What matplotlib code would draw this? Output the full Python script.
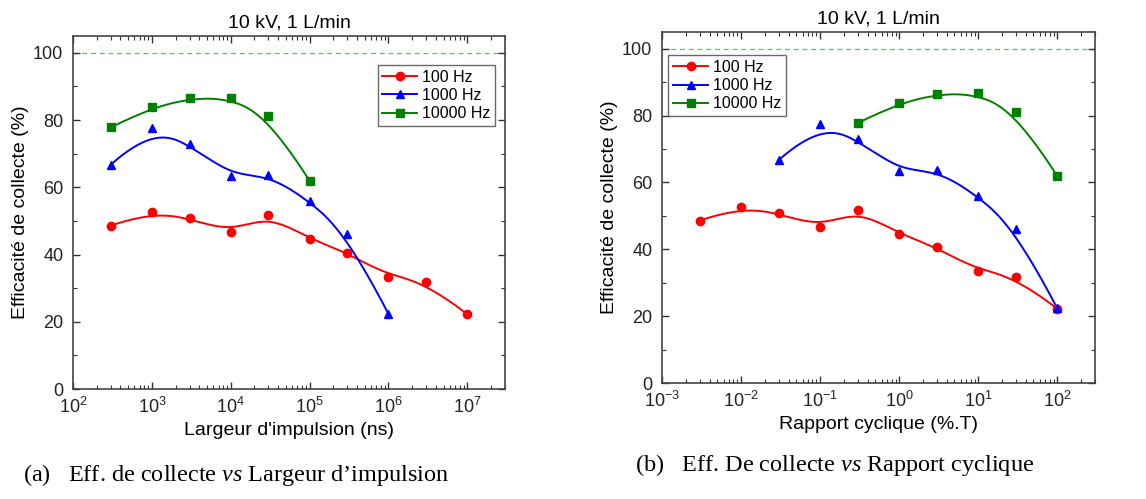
import numpy as np
import matplotlib
matplotlib.use("Agg")
import matplotlib.pyplot as plt
from matplotlib.ticker import LogLocator, MultipleLocator, NullFormatter

plt.rcParams['font.family'] = ['Liberation Sans', 'DejaVu Sans']
plt.rcParams['mathtext.fontset'] = 'custom'
plt.rcParams['mathtext.rm'] = 'Liberation Serif'
plt.rcParams['mathtext.it'] = 'Liberation Serif:italic'

# pulse widths (ns) and collection efficiency (%) for each frequency
freqs_hz = [100, 1000, 10000]
series_labels = ['100 Hz', '1000 Hz', '10000 Hz']
width_100 = [3e2, 1e3, 3e3, 1e4, 3e4, 1e5, 3e5, 1e6, 3e6, 1e7]
eff_100 = [48.6, 52.7, 50.8, 46.6, 51.8, 44.6, 40.6, 33.4, 31.8, 22.2]
width_1000 = [3e2, 1e3, 3e3, 1e4, 3e4, 1e5, 3e5, 1e6]
eff_1000 = [66.7, 77.6, 72.9, 63.4, 63.7, 56.0, 46.0, 22.3]
width_10000 = [3e2, 1e3, 3e3, 1e4, 3e4, 1e5]
eff_10000 = [77.8, 83.8, 86.5, 86.7, 81.2, 61.9]

colors = ['#ff0000', '#0000ff', '#008000']
markers = ['o', '^', 's']


def bspline(x, y, n=200):
    # clamped cubic B-spline using the data as control points (like Origin "B-Spline")
    px = np.log10(np.asarray(x, float))
    py = np.asarray(y, float)
    m = len(px)
    k = 3
    knots = np.concatenate([np.zeros(k), np.arange(m - k + 1), np.full(k, m - k)]).astype(float)
    t = np.linspace(0, m - k, n)
    t[-1] -= 1e-9

    def basis(i, d, tt):
        if d == 0:
            return np.where((knots[i] <= tt) & (tt < knots[i + 1]), 1.0, 0.0)
        out = np.zeros_like(tt)
        den1 = knots[i + d] - knots[i]
        den2 = knots[i + d + 1] - knots[i + 1]
        if den1 > 0:
            out += (tt - knots[i]) / den1 * basis(i, d - 1, tt)
        if den2 > 0:
            out += (knots[i + d + 1] - tt) / den2 * basis(i + 1, d - 1, tt)
        return out

    B = np.array([basis(i, k, t) for i in range(m)])
    return 10 ** (B.T @ px), B.T @ py


def style_axes(ax, xlim):
    ax.set_xscale('log')
    ax.set_xlim(*xlim)
    ax.set_ylim(0, 105)
    ax.yaxis.set_major_locator(MultipleLocator(20))
    ax.yaxis.set_minor_locator(MultipleLocator(10))
    ax.xaxis.set_major_locator(LogLocator(base=10, numticks=20))
    ax.xaxis.set_minor_locator(LogLocator(base=10, subs=np.arange(2, 10), numticks=20))
    ax.xaxis.set_minor_formatter(NullFormatter())
    ax.tick_params(which='both', direction='in', top=True, right=True, colors='#333333',
                   labelcolor='#222222', labelsize=13)
    ax.tick_params(which='major', length=5, width=1)
    ax.tick_params(which='minor', length=3, width=0.8)
    ax.tick_params(axis='x', pad=6)
    ax.tick_params(axis='y', pad=7)
    for s in ax.spines.values():
        s.set_color('#444444')
        s.set_linewidth(1.2)
    ax.axhline(100, color='#33dd33', lw=0.9, ls=(0, (4, 3)), zorder=1)
    ax.set_ylabel('Efficacité de collecte (%)', fontsize=14, labelpad=3)
    ax.set_title('10 kV, 1 L/min', fontsize=14, pad=6)


fig = plt.figure(figsize=(11.46, 4.99), dpi=100)
ax1 = fig.add_axes([73 / 1146, 110 / 499, 432 / 1146, 353 / 499])
ax2 = fig.add_axes([662 / 1146, 116 / 499, 433 / 1146, 351 / 499])

widths = [width_100, width_1000, width_10000]
effs = [eff_100, eff_1000, eff_10000]

for i in range(3):
    w = np.array(widths[i])
    duty = w * freqs_hz[i] * 1e-9 * 100  # duty cycle in % of period
    for ax, xv in ((ax1, w), (ax2, duty)):
        cx, cy = bspline(xv, effs[i])
        ax.plot(cx, cy, color=colors[i], lw=1.4, zorder=3)
        ax.plot(xv, effs[i], ls='none', marker=markers[i], ms=6, color=colors[i], zorder=4)
        ax.plot([], [], color=colors[i], lw=1.4, marker=markers[i], ms=6, label=series_labels[i])

style_axes(ax1, (1e2, 3e7))
style_axes(ax2, (1e-3, 3e2))
ax1.set_xlabel("Largeur d'impulsion (ns)", fontsize=14, labelpad=3)
ax2.set_xlabel('Rapport cyclique (%.T)', fontsize=14, labelpad=3)

for ax, loc in ((ax1, (0.705, 0.745)), (ax2, (0.015, 0.76))):
    leg = ax.legend(loc='lower left', bbox_to_anchor=loc, fontsize=11.5, frameon=True, fancybox=False,
                    handlelength=2.2, handletextpad=0.3, borderpad=0.3, labelspacing=0.2,
                    borderaxespad=0)
    leg.get_frame().set_edgecolor('#444444')
    leg.get_frame().set_linewidth(1.0)

fig.text(23 / 1146, 1 - 475 / 499, r"(a)   Eff. de collecte $\it{vs}$ Largeur d’impulsion",
         family='Liberation Serif', fontsize=17.5, va='center', ha='left')
fig.text(635 / 1146, 1 - 465 / 499, r"(b)   Eff. De collecte $\it{vs}$ Rapport cyclique",
         family='Liberation Serif', fontsize=17.5, va='center', ha='left')

fig.savefig('out.png', dpi=100)
